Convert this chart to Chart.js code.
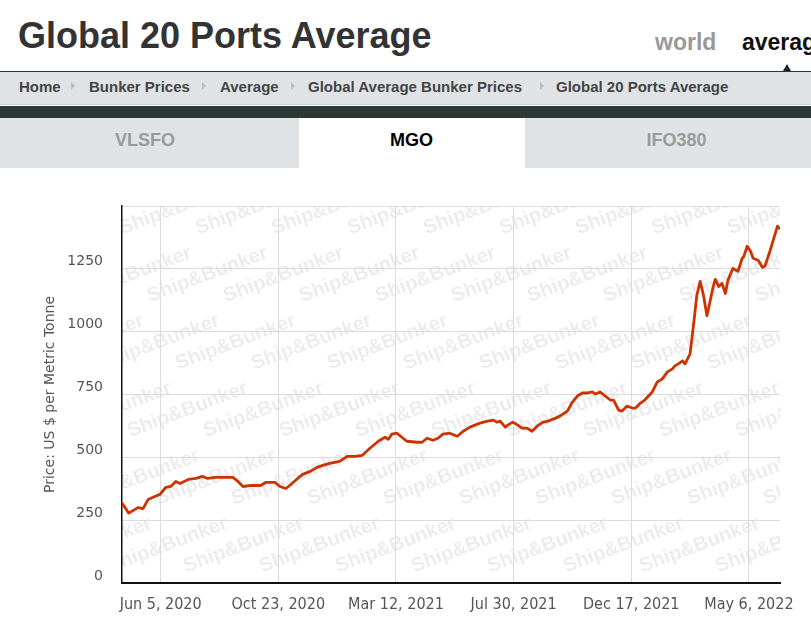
<!DOCTYPE html>
<html>
<head>
<meta charset="utf-8">
<script src="https://cdn.jsdelivr.net/npm/chart.js@4.4.1/dist/chart.umd.min.js"></script>
<style>
  body { margin: 0; width: 811px; height: 641px; overflow: hidden; background: #fff; font-family: "Liberation Sans", Arial, sans-serif; position: relative; }
  .abs { position: absolute; white-space: nowrap; }
  .crumb { position: absolute; top: 77px; line-height: 20px; font-size: 15px; font-weight: bold; color: #444; }
  .sep { position: absolute; top: 82px; width: 0; height: 0; border-top: 4px solid transparent; border-bottom: 4px solid transparent; border-left: 4px solid #bdbdbd; }
  .tab { position: absolute; top: 118px; height: 50px; background: #dfe3e6; }
  .tabText { position: absolute; top: 128px; line-height: 24px; font-size: 18px; font-weight: bold; text-align: center; color: #9a9a9a; }
  #chartBox { position: absolute; left: 0; top: 170px; width: 811px; height: 471px; }
</style>
</head>
<body>
<div class="abs" style="left:18px;top:16px;font-size:36px;line-height:40px;font-weight:bold;color:#333;">Global 20 Ports Average</div>
<div class="abs" style="left:655px;top:27px;font-size:23px;line-height:30px;font-weight:bold;color:#999;">world</div>
<div class="abs" style="left:742px;top:27px;font-size:23px;line-height:30px;font-weight:bold;color:#111;">average</div>
<div class="abs" style="left:783px;top:64px;width:0;height:0;border-left:4px solid transparent;border-right:4px solid transparent;border-bottom:7px solid #222;"></div>
<div class="abs" style="left:0;top:71px;width:811px;height:1px;background:#333;"></div>
<div class="abs" style="left:0;top:72px;width:811px;height:32px;background:#dfe3e6;border-bottom:1px solid #c9ced1;"></div>
<div class="abs" style="left:0;top:106px;width:811px;height:12px;background:#2c3833;"></div>

<div class="crumb" style="left:19px;">Home</div>
<div class="sep" style="left:71px;"></div>
<div class="crumb" style="left:89px;">Bunker Prices</div>
<div class="sep" style="left:202px;"></div>
<div class="crumb" style="left:220px;">Average</div>
<div class="sep" style="left:291px;"></div>
<div class="crumb" style="left:308px;">Global Average Bunker Prices</div>
<div class="sep" style="left:540px;"></div>
<div class="crumb" style="left:556px;">Global 20 Ports Average</div>

<div class="tab" style="left:0;width:299px;"></div>
<div class="tab" style="left:525px;width:286px;"></div>
<div class="tabText" style="left:0;width:290px;">VLSFO</div>
<div class="tabText" style="left:299px;width:225px;color:#000;">MGO</div>
<div class="tabText" style="left:525px;width:303px;">IFO380</div>

<div id="chartBox"><canvas id="price-chart" width="811" height="471"></canvas></div>

<script>
// MGO, Global 20 Ports Average, US $ per metric tonne
const priceDates = [
  '2020-04-20', '2020-04-28', '2020-05-09', '2020-05-15', '2020-05-21', '2020-05-29', '2020-06-04',
  '2020-06-11', '2020-06-17', '2020-06-23', '2020-06-28', '2020-07-08', '2020-07-17', '2020-07-25',
  '2020-07-31', '2020-08-09', '2020-08-16', '2020-08-30', '2020-09-05', '2020-09-11', '2020-09-21',
  '2020-10-02', '2020-10-08', '2020-10-19', '2020-10-25', '2020-11-01', '2020-11-07', '2020-11-15',
  '2020-11-21', '2020-11-30', '2020-12-08', '2020-12-15', '2020-12-23', '2021-01-04', '2021-01-13',
  '2021-01-22', '2021-01-31', '2021-02-09', '2021-02-19', '2021-02-27', '2021-03-03', '2021-03-07',
  '2021-03-13', '2021-03-19', '2021-03-25', '2021-04-06', '2021-04-12', '2021-04-18', '2021-04-25',
  '2021-05-01', '2021-05-07', '2021-05-15', '2021-05-24', '2021-05-31', '2021-06-08', '2021-06-20',
  '2021-06-29', '2021-07-06', '2021-07-10', '2021-07-14', '2021-07-20', '2021-07-23', '2021-07-29',
  '2021-08-04', '2021-08-09', '2021-08-15', '2021-08-21', '2021-08-27', '2021-09-03', '2021-09-09',
  '2021-09-18', '2021-09-23', '2021-10-02', '2021-10-08', '2021-10-14', '2021-10-20', '2021-10-26',
  '2021-11-01', '2021-11-04', '2021-11-10', '2021-11-16', '2021-11-22', '2021-11-26', '2021-12-02',
  '2021-12-06', '2021-12-12', '2021-12-18', '2021-12-22', '2021-12-28', '2022-01-02', '2022-01-11',
  '2022-01-17', '2022-01-23', '2022-01-29', '2022-02-04', '2022-02-07', '2022-02-11', '2022-02-16',
  '2022-02-19', '2022-02-25', '2022-03-01', '2022-03-05', '2022-03-09', '2022-03-13', '2022-03-17',
  '2022-03-19', '2022-03-24', '2022-03-27', '2022-03-31', '2022-04-04', '2022-04-08', '2022-04-11',
  '2022-04-17', '2022-04-23', '2022-04-28', '2022-04-30', '2022-05-04', '2022-05-08', '2022-05-11',
  '2022-05-17', '2022-05-22', '2022-05-25', '2022-05-31', '2022-06-04', '2022-06-09', '2022-06-12'
];
const mgoPrices = [
  318, 278, 300, 296, 332, 344, 352,
  380, 384, 404, 396, 412, 416, 424,
  416, 420, 420, 420, 404, 384, 388,
  388, 400, 400, 384, 376, 392, 416,
  432, 444, 460, 468, 476, 484, 504,
  504, 508, 536, 564, 580, 572, 592,
  596, 580, 564, 560, 560, 576, 568,
  576, 592, 596, 584, 604, 620, 636,
  644, 648, 640, 644, 620, 628, 640,
  628, 616, 616, 604, 624, 640, 644,
  656, 664, 684, 720, 744, 756, 756,
  760, 752, 760, 744, 728, 728, 688,
  684, 704, 696, 696, 716, 728, 760,
  800, 812, 840, 852, 864, 872, 884,
  872, 912, 1024, 1144, 1200, 1144, 1064,
  1092, 1172, 1208, 1180, 1192, 1152, 1204,
  1252, 1240, 1292, 1300, 1340, 1320, 1292,
  1284, 1256, 1260, 1320, 1364, 1420, 1408
];
const tickDates = ['2020-06-05', '2020-10-23', '2021-03-12', '2021-07-30', '2021-12-17', '2022-05-06'];
const tickLabels = ['Jun 5, 2020', 'Oct 23, 2020', 'Mar 12, 2021', 'Jul 30, 2021', 'Dec 17, 2021', 'May 6, 2022'];
const rangeStart = '2020-04-20';
const rangeEnd = '2022-06-12';

const toDay = s => Date.parse(s + 'T00:00:00Z') / 86400000;

// background "Ship&Bunker" tiles behind the plot
const watermark = {
    id: 'watermark',
    beforeDraw(chart) {
        const { ctx, chartArea: a } = chart;
        ctx.save();
        ctx.beginPath();
        ctx.rect(a.left, a.top, a.width, a.height);
        ctx.clip();
        ctx.font = 'bold 20px "Liberation Sans", Arial, sans-serif';
        ctx.fillStyle = 'rgba(0, 0, 0, 0.075)';
        ctx.textBaseline = 'middle';
        for (let r = -1; r < 8; r++) {
            const cy = 222 - 170 + r * 67.6;
            const cx0 = ((140 + r * 28) % 76 + 76) % 76;
            for (let cx = cx0 - 152; cx < 830; cx += 76) {
                ctx.save();
                ctx.translate(cx, cy);
                ctx.rotate(-0.36);
                ctx.fillText('Ship&Bunker', -21, 0);
                ctx.restore();
            }
        }
        ctx.restore();
    }
};

const axisFont = { family: '"DejaVu Sans", Verdana, sans-serif', size: 14 };

new Chart(document.getElementById('price-chart').getContext('2d'), {
    type: 'line',
    data: {
        datasets: [{
            label: 'MGO',
            data: priceDates.map((d, i) => ({ x: toDay(d), y: mgoPrices[i] })),
            borderColor: '#cc3300',
            borderWidth: 2.8,
            borderJoinStyle: 'round',
            pointRadius: 0,
            tension: 0,
            fill: false
        }]
    },
    options: {
        responsive: false,
        animation: false,
        devicePixelRatio: 1,
        layout: { padding: { top: 36, right: 31, bottom: 0, left: 0 } },
        plugins: { legend: { display: false }, tooltip: { enabled: false } },
        scales: {
            x: {
                type: 'linear',
                min: toDay(rangeStart),
                max: toDay(rangeEnd),
                afterBuildTicks: scale => { scale.ticks = tickDates.map(d => ({ value: toDay(d) })); },
                afterFit: scale => { scale.height = 58; },
                ticks: {
                    autoSkip: false,
                    maxRotation: 0,
                    padding: 12,
                    color: '#555',
                    font: { family: '"DejaVu Sans Condensed", "DejaVu Sans", sans-serif', size: 16 },
                    callback: (v, i) => tickLabels[i]
                },
                grid: { color: '#dcdcdc', lineWidth: 1, drawTicks: false },
                border: { color: '#111', width: 2 }
            },
            y: {
                min: 0,
                max: 1500,
                afterFit: scale => { scale.width = 122; },
                ticks: {
                    stepSize: 250,
                    padding: 19,
                    labelOffset: -7,
                    color: '#555',
                    font: axisFont,
                    callback: v => (v === 1500 ? '' : v)
                },
                grid: { color: '#dcdcdc', lineWidth: 1, drawTicks: false },
                border: { color: '#111', width: 1.5 },
                title: {
                    display: true,
                    text: 'Price: US $ per Metric Tonne',
                    color: '#555',
                    font: axisFont,
                    padding: { top: 41.6, bottom: 0 }
                }
            }
        }
    },
    plugins: [watermark]
});
</script>
</body>
</html>
